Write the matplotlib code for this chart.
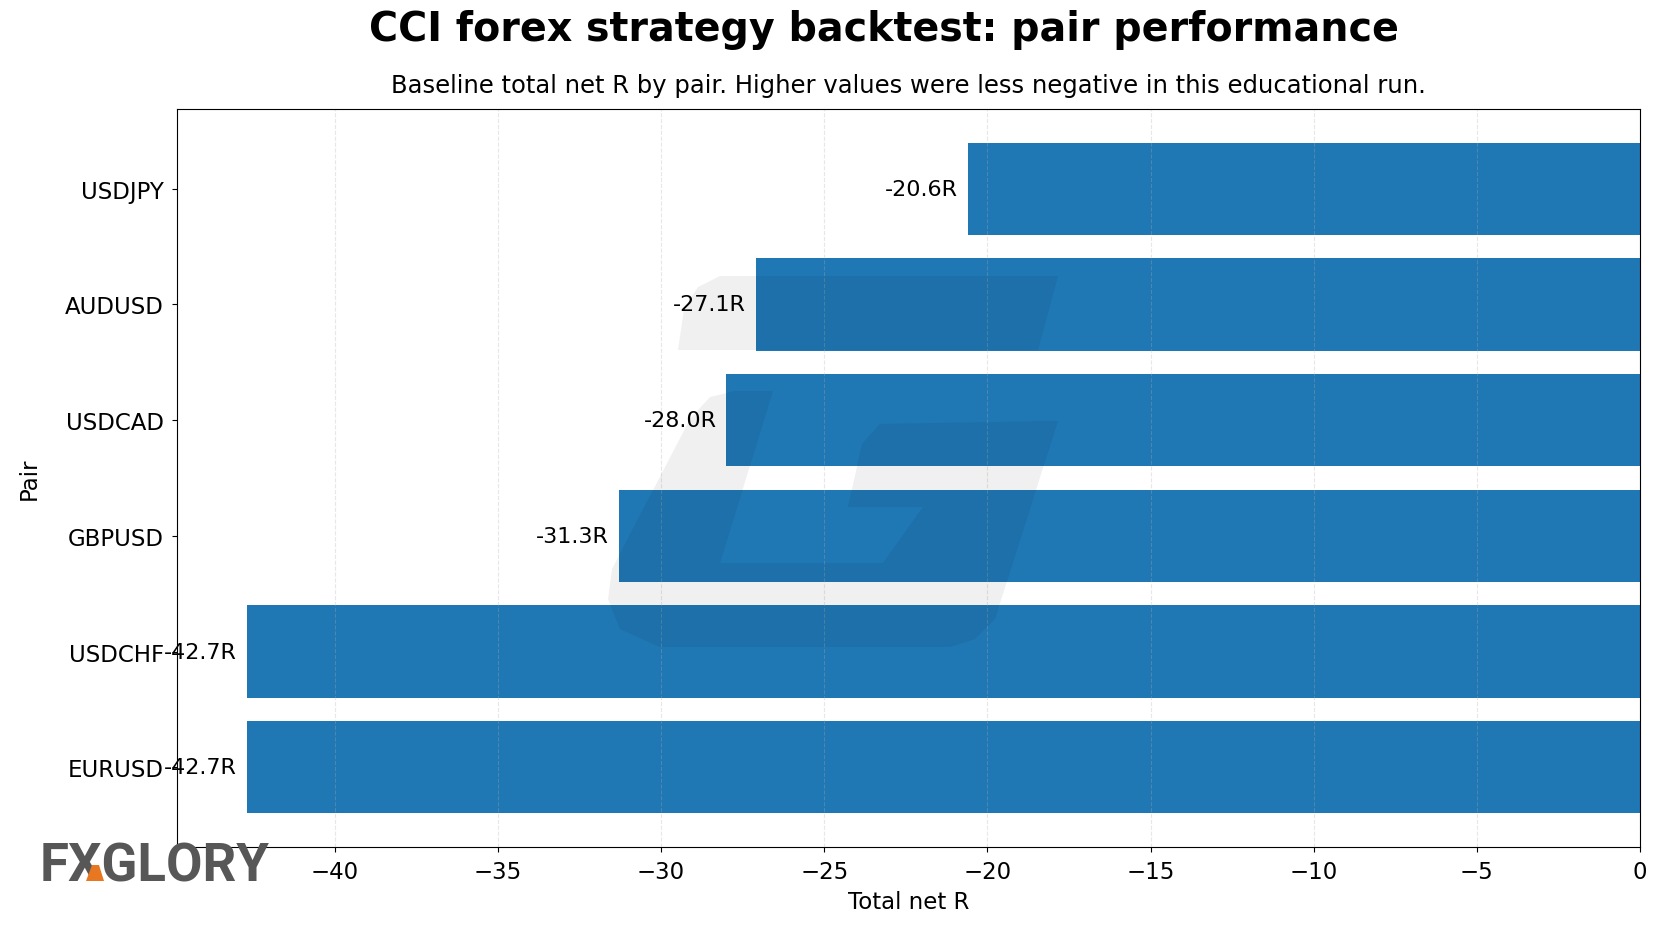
import numpy as np
import matplotlib
matplotlib.use("Agg")
import matplotlib.pyplot as plt
from matplotlib.patches import Polygon

pairs = ["EURUSD", "USDCHF", "GBPUSD", "USDCAD", "AUDUSD", "USDJPY"]
net_r = [-42.7, -42.7, -31.3, -28.0, -27.1, -20.6]

W, H = 1664, 928
fig = plt.figure(figsize=(W / 100, H / 100), dpi=100)
ax = fig.add_axes([177 / W, 1 - 848 / H, (1640 - 177) / W, (848 - 110) / H])

y = np.arange(len(pairs))
ax.barh(y, net_r, height=0.8, color="#1f77b4")
ax.set_yticks(y)
ax.set_yticklabels(pairs, fontsize=16.5)
ax.tick_params(axis="x", labelsize=16.5, pad=6)
ax.tick_params(axis="y", pad=6)
ax.set_xlim(min(net_r) * 1.05, 0)
ax.set_xticks(np.arange(-40, 1, 5))
ax.grid(axis="x", linestyle="--", alpha=0.3)

for yi, v in zip(y, net_r):
    ax.annotate(f"{v:.1f}R", (v, yi), xytext=(-7, 0), textcoords="offset points",
                ha="right", va="center", fontsize=16)

ax.set_xlabel("Total net R", fontsize=16.5)
ax.xaxis.set_label_coords(0.5, -0.058)
ax.set_ylabel("Pair", fontsize=16.5)
ax.yaxis.set_label_coords(-0.093, 0.5)
ax.set_title("Baseline total net R by pair. Higher values were less negative in this educational run.",
             fontsize=17.5, pad=12)
fig.text(884 / W, 1 - 30 / H, "CCI forex strategy backtest: pair performance",
         ha="center", va="center", fontsize=28.5, fontweight="bold")

# faint "G" watermark over the plot
def fpts(pts):
    return [(px / W, 1 - py / H) for px, py in pts]

top_bar = [(720, 277), (1058, 277), (1038, 351), (678, 351), (684, 310), (698, 288)]
body = [(735, 392), (773, 392), (720, 564), (883, 564), (923, 508), (848, 508),
        (862, 445), (880, 425), (1058, 422), (995, 620), (975, 640), (950, 648),
        (660, 648), (620, 630), (608, 600), (612, 570), (690, 420), (710, 398)]
for shape in (top_bar, body):
    fig.patches.append(Polygon(fpts(shape), closed=True, transform=fig.transFigure,
                               facecolor="black", edgecolor="none", alpha=0.06, zorder=5))

# logo
fig.text(40 / W, 1 - 882 / H, "FXGLORY", ha="left", va="baseline", fontsize=38,
         fontweight="bold", color="#575757", family="Roboto")
fig.patches.append(Polygon(fpts([(92, 866), (99, 866), (104, 882), (86, 882)]), closed=True,
                           transform=fig.transFigure, facecolor="#e87722", edgecolor="none", zorder=6))

fig.savefig("out.png", dpi=100)
